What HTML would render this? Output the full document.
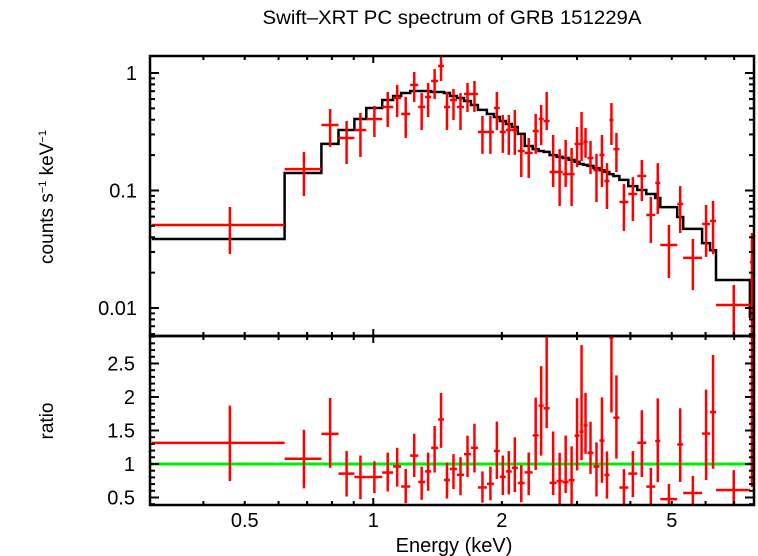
<!DOCTYPE html>
<html><head><meta charset="utf-8"><style>
body{margin:0;background:#fff;}
svg{display:block;font-family:"Liberation Sans",sans-serif;}
</style></head><body>
<svg id="chart" width="758" height="556" viewBox="0 0 758 556" xmlns="http://www.w3.org/2000/svg">
<rect x="0" y="0" width="758" height="556" fill="#fff"/>
<text x="452" y="24" font-size="19" text-anchor="middle" textLength="379" lengthAdjust="spacingAndGlyphs">Swift–XRT PC spectrum of GRB 151229A</text>
<text transform="translate(53,197) rotate(-90)" font-size="19" text-anchor="middle">counts s<tspan font-size="11" dy="-7">−1</tspan><tspan dy="7"> keV</tspan><tspan font-size="11" dy="-7">−1</tspan></text>
<text transform="translate(53,421) rotate(-90)" font-size="19" text-anchor="middle">ratio</text>
<text x="454" y="552" font-size="20" text-anchor="middle">Energy (keV)</text>
<g id="gTop"></g>
<g id="gBot"></g>
</svg>
<script>
// Bin edges (keV)
const binEdges = [0.303,0.620,0.756,0.829,0.903,0.963,1.049,1.113,1.162,1.220,1.274,1.322,1.366,1.418,1.464,1.512,1.570,1.631,1.693,1.758,1.845,1.916,1.978,2.043,2.110,2.180,2.262,2.362,2.439,2.506,2.588,2.687,2.776,2.867,2.960,3.041,3.107,3.174,3.278,3.385,3.478,3.573,3.650,3.770,3.956,4.152,4.358,4.574,4.699,5.149,5.317,5.888,6.146,6.348,7.621,7.786];
// Data rate (counts/s/keV)
const rate = [0.0509,0.152,0.361,0.280,0.327,0.406,0.514,0.613,0.448,0.791,0.514,0.625,0.855,1.147,0.514,0.589,0.514,0.663,0.663,0.315,0.315,0.504,0.315,0.327,0.327,0.217,0.209,0.321,0.406,0.390,0.1437,0.1437,0.138,0.138,0.249,0.249,0.26,0.189,0.149,0.201,0.1205,0.398,0.225,0.0798,0.0934,0.133,0.0619,0.116,0.0344,0.0768,0.0267,0.0519,0.055,0.0106,0.0246];
const rateHi = [0.0724,0.213,0.494,0.390,0.457,0.524,0.689,0.791,0.625,1.02,0.675,0.822,1.08,1.42,0.689,0.731,0.675,0.822,0.855,0.431,0.431,0.689,0.439,0.439,0.485,0.297,0.280,0.448,0.534,0.689,0.297,0.225,0.269,0.230,0.347,0.466,0.34,0.264,0.205,0.297,0.171,0.555,0.309,0.1136,0.130,0.182,0.0881,0.171,0.0509,0.109,0.0387,0.0753,0.0814,0.0157,0.0435];
const rateLo = [0.0288,0.0898,0.235,0.168,0.193,0.285,0.347,0.422,0.280,0.567,0.327,0.422,0.601,0.855,0.327,0.398,0.327,0.466,0.466,0.205,0.205,0.327,0.209,0.201,0.201,0.130,0.128,0.205,0.244,0.327,0.107,0.0738,0.107,0.0738,0.158,0.178,0.19,0.138,0.0798,0.107,0.0696,0.244,0.1437,0.0452,0.055,0.0814,0.0357,0.063,0.018,0.0435,0.0142,0.0272,0.0288,0.0055,0.0055];
// Folded model per bin
const model = [0.0387,0.141,0.249,0.327,0.406,0.504,0.589,0.637,0.675,0.703,0.703,0.703,0.689,0.689,0.675,0.637,0.613,0.578,0.534,0.485,0.448,0.422,0.39,0.368,0.347,0.303,0.239,0.225,0.217,0.213,0.2,0.193,0.189,0.182,0.175,0.168,0.165,0.162,0.155,0.149,0.144,0.138,0.133,0.123,0.109,0.101,0.0934,0.0864,0.0723,0.0595,0.0471,0.0357,0.031,0.0173,0.0084];
const xTickLabels = ["0.5","1","2","5"];
const xTickVals = [0.5,1,2,5];
const yTopLabels = ["1","0.1","0.01"];
const yTopVals = [1,0.1,0.01];
const yBotLabels = ["0.5","1","1.5","2","2.5"];
const yBotVals = [0.5,1,1.5,2,2.5];

const NS="http://www.w3.org/2000/svg";
const L=150,R=754,T1=56,B1=336,T2=336,B2=505;
const xMin=0.3,xMax=7.79;
const yMin=0.00578,yMax=1.395;
const rMin=0.388,rMax=2.91;
const X=e=>L+(Math.log10(e)-Math.log10(xMin))/(Math.log10(xMax)-Math.log10(xMin))*(R-L);
const Y1=v=>B1-(Math.log10(v)-Math.log10(yMin))/(Math.log10(yMax)-Math.log10(yMin))*(B1-T1);
const Y2=v=>B2-(v-rMin)/(rMax-rMin)*(B2-T2);
const gT=document.getElementById('gTop'),gB=document.getElementById('gBot');
function el(tag,attrs,parent){const e=document.createElementNS(NS,tag);for(const k in attrs)e.setAttribute(k,attrs[k]);parent.appendChild(e);return e;}

const defs=el('defs',{},document.getElementById('chart'));
const c1=el('clipPath',{id:'c1'},defs);el('rect',{x:L,y:T1,width:R-L,height:B1-T1},c1);
const c2=el('clipPath',{id:'c2'},defs);el('rect',{x:L,y:T2,width:R-L,height:B2-T2},c2);
const d1=el('g',{'clip-path':'url(#c1)'},gT);
const d2=el('g',{'clip-path':'url(#c2)'},gB);

let p='';
for(let i=0;i<model.length;i++){const x0=X(binEdges[i]),x1=X(binEdges[i+1]),y=Y1(model[i]);p+=(i===0?'M':'L')+x0.toFixed(1)+','+y.toFixed(1)+'L'+x1.toFixed(1)+','+y.toFixed(1);}
const mp=el('path',{d:p,fill:'none',stroke:'#000','stroke-width':2.5},d1);



const gl=el('line',{x1:L,x2:R,y1:Y2(1),y2:Y2(1),stroke:'#00ee00','stroke-width':3},d2);



for(let i=0;i<rate.length;i++){
  const x0=X(binEdges[i]),x1=X(binEdges[i+1]),xc=X((binEdges[i]+binEdges[i+1])/2);
  const g=el('g',{stroke:'#ff0000','stroke-width':2.5},d1);
  
  
  el('line',{x1:x0,x2:x1,y1:Y1(rate[i]),y2:Y1(rate[i])},g);
  el('line',{x1:xc,x2:xc,y1:Y1(rateHi[i]),y2:Y1(rateLo[i])},g);
  const r=rate[i]/model[i],rh=rateHi[i]/model[i],rl=rateLo[i]/model[i];
  const g2=el('g',{stroke:'#ff0000','stroke-width':2.5},d2);
  
  
  el('line',{x1:x0,x2:x1,y1:Y2(r),y2:Y2(r)},g2);
  el('line',{x1:xc,x2:xc,y1:Y2(rh),y2:Y2(rl)},g2);
}

const f1=el('rect',{x:L,y:T1,width:R-L,height:B1-T1,fill:'none',stroke:'#000','stroke-width':2.5},gT);


const f2=el('rect',{x:L,y:T2,width:R-L,height:B2-T2,fill:'none',stroke:'#000','stroke-width':2.5},gB);



const tk=el('g',{stroke:'#000','stroke-width':2},document.getElementById('chart'));


for(let dec=-1;dec<=0;dec++){for(let m=1;m<10;m++){const e=m*Math.pow(10,dec);if(e<xMin||e>xMax)continue;const x=X(e);const len=(m===1)?7:4;
  [[T1,1],[B1,-1],[T2,1],[B2,-1]].forEach(([y,s])=>el('line',{x1:x,x2:x,y1:y,y2:y+s*len},tk));}}
for(let dec=-3;dec<=0;dec++){for(let m=1;m<10;m++){const v=m*Math.pow(10,dec);if(v<yMin||v>yMax)continue;const y=Y1(v);const len=(m===1)?9:5;
  el('line',{x1:L,x2:L+len,y1:y,y2:y},tk);el('line',{x1:R,x2:R-len,y1:y,y2:y},tk);}}
for(let k=0;k<=30;k++){const v=k*0.1;if(v<rMin||v>rMax)continue;const y=Y2(v);const len=(k%5===0)?9:5;
  el('line',{x1:L,x2:L+len,y1:y,y2:y},tk);el('line',{x1:R,x2:R-len,y1:y,y2:y},tk);}

const svg=document.getElementById('chart');
xTickLabels.forEach((t,i)=>{const e=el('text',{x:X(xTickVals[i]),y:527,'font-size':20,'text-anchor':'middle'},svg);e.textContent=t;
  
  });
yTopLabels.forEach((t,i)=>{const e=el('text',{x:137,y:Y1(yTopVals[i])+7,'font-size':20,'text-anchor':'end'},svg);e.textContent=t;
  
  });
yBotLabels.forEach((t,i)=>{const e=el('text',{x:135,y:Y2(yBotVals[i])+7,'font-size':20,'text-anchor':'end'},svg);e.textContent=t;
  
  });
</script>
</body></html>
